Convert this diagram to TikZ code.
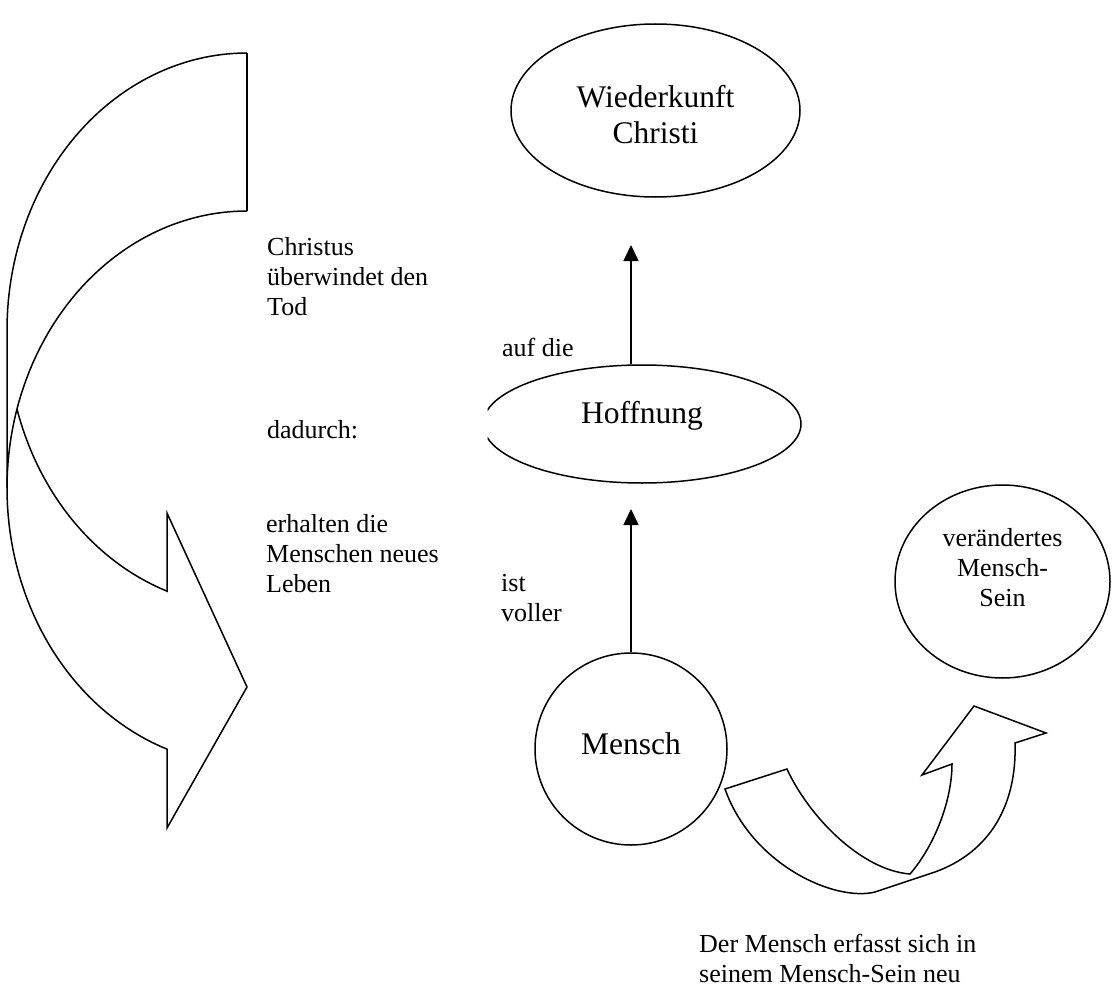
\documentclass[tikz,border=0pt]{standalone}
\usepackage{fontspec}
\setmainfont{Liberation Serif}
\usetikzlibrary{arrows.meta,shapes.geometric}
\newcommand{\smallfs}{\fontsize{26}{30}\selectfont}
\newcommand{\bigfs}{\fontsize{31.5}{36}\selectfont}
\begin{document}
\begin{tikzpicture}[x=1pt,y=-1pt,
  outl/.style={draw=black,line width=1.5pt,line join=miter},
  bubble/.style={ellipse,draw=black,line width=1.5pt,inner sep=0pt,font=\bigfs,align=center},
  lbl/.style={font=\smallfs,align=left,anchor=base west,inner sep=0pt},
  conn/.style={line width=1.6pt,-{Triangle[length=16pt,width=15pt]}}]
\useasboundingbox (0,0) rectangle (1112,990);

% left curved arrow
\draw[outl] plot[domain=90:180,samples=60] ({247+240*cos(\x)},{330-277*sin(\x)}) -- (7,488);
\draw[outl] plot[domain=90:250.53,samples=90] ({247+240*cos(\x)},{488-277*sin(\x)})
  -- (167,828) -- (247,687) -- (167,513)
  -- plot[domain=250.53:196.6,samples=40] ({247+240*cos(\x)},{330-277*sin(\x)});
\draw[outl] (247,211) -- (247,53);

% bottom right curved arrow
\draw[outl] (725,789) -- (787,769) .. controls (808,815) and (860,870) .. (910,874)
  .. controls (935,845) and (952,800) .. (952,764) -- (922,775) -- (974,706)
  -- (1046,733) -- (1015,743) .. controls (1017,805) and (990,852) .. (935,872)
  -- (875,892) .. controls (835,902) and (752,865) .. cycle;

% nodes
\node[bubble,minimum width=289pt,minimum height=173pt,text height=65pt,text depth=0pt] (wk) at (655.5,110.5) {Wiederkunft\\Christi};
\begin{scope}
  \clip (487.5,300) rectangle (900,520);
  \node[bubble,minimum width=318pt,minimum height=118pt,text height=22pt,text depth=24pt] (ho) at (642,424) {Hoffnung};
\end{scope}
\node[bubble,minimum width=192pt,minimum height=192pt,text height=22pt,text depth=11pt] (mn) at (631,749) {Mensch};
\node[bubble,font=\smallfs,minimum width=215pt,minimum height=193pt,text height=49pt,text depth=0pt] (vm) at (1002.5,581.5) {verändertes\\Mensch-\\Sein};

% labels (anchor = baseline of last line)
\node[lbl] (l1) at (267,315) {Christus\\überwindet den\\Tod};
\node[lbl] (l2) at (267,438) {dadurch:};
\node[lbl] (l3) at (266,592) {erhalten die\\Menschen neues\\Leben};
\node[lbl] (l4) at (501,621) {ist\\voller};
\node[lbl] (l5) at (502,356) {auf die};
\node[lbl] (l6) at (699,982) {Der Mensch erfasst sich in\\seinem Mensch-Sein neu};

% connectors
\coordinate (tip1) at (631,245);
\coordinate (tip2) at (631,509);
\draw[conn] (tip1 |- ho.north) -- (tip1);
\draw[conn] (mn.north) -- (tip2);
\end{tikzpicture}
\end{document}
